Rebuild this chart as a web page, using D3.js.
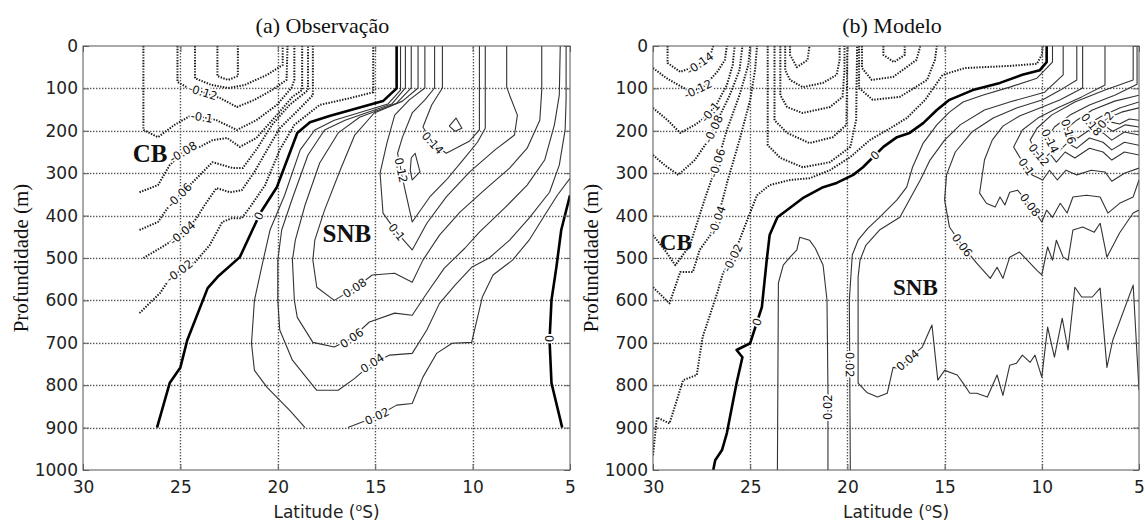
<!DOCTYPE html>
<html>
<head>
<meta charset="utf-8">
<script src="https://cdn.jsdelivr.net/npm/d3@7"></script>
<style>
  body { margin: 0; background: #fff; }
  svg { display: block; }
</style>
</head>
<body>
<svg id="chart" width="1145" height="523"></svg>
<script>
// contour lines, points are [latitude °S, depth m]

// ---- (a) Observação ----
const obsZeroW = [[13.9,0],[13.9,100],[14.6,130],[17.35,165],[18.35,180],[19.0,205],[20.05,333],[20.9,394],[21.95,498],[23.1,545],[23.6,571],[24.65,694],[25.0,758],[25.55,795],[26.2,900]];
const obsZeroE = [[5.0,352],[5.45,434],[5.7,522],[5.95,599],[6.05,694],[5.95,795],[5.4,900]];
const obsP02a = [[13.7,0],[13.7,104],[14.35,137],[17.1,175],[18.1,198],[18.85,245],[19.65,352],[20.4,434],[20.75,505],[21.2,600],[21.35,701],[21.2,765],[20.55,805],[19.4,859],[18.6,900]];
const obsP02b = [[16.4,900],[14.9,873],[13.9,847],[13.1,843],[12.55,781],[11.85,725],[11.05,701],[10.05,699],[9.5,592],[8.95,540],[7.95,505],[7.1,458],[6.3,399],[5.65,352],[5.0,312]];
const obsP04 = [[13.45,0],[13.45,99],[14.15,137],[16.55,175],[17.6,198],[18.45,257],[19.25,359],[19.8,434],[20.0,505],[20.0,600],[19.9,670],[19.25,741],[18.0,812],[16.9,812],[16.05,784],[15.15,748],[14.25,729],[13.1,725],[12.35,670],[11.7,607],[10.9,564],[10.05,522],[9.15,500],[8.1,458],[7.1,406],[6.05,345],[5.55,281],[5.25,198],[5.2,127],[5.2,0]];
const obsP06 = [[13.15,0],[13.15,99],[13.9,135],[15.8,168],[16.9,205],[17.85,276],[18.6,375],[19.1,458],[19.25,505],[19.15,600],[19.0,640],[18.2,699],[17.1,710],[16.2,689],[15.3,651],[14.0,630],[13.1,635],[12.35,583],[11.45,524],[10.4,477],[9.65,439],[8.35,382],[7.2,328],[6.3,269],[5.8,186],[5.55,116],[5.5,0]];
const obsP08 = [[12.8,0],[12.8,99],[13.6,130],[15.05,158],[16.05,210],[16.8,293],[17.6,387],[18.1,458],[18.2,505],[18.0,569],[17.1,600],[16.05,571],[15.15,540],[14.0,536],[13.1,557],[12.55,505],[11.7,446],[10.65,392],[9.4,340],[8.1,288],[7.2,241],[6.55,175],[6.45,104],[6.45,0]];
const obsP10 = [[12.45,0],[12.45,99],[13.25,127],[14.0,163],[14.4,229],[14.75,300],[14.6,394],[13.9,439],[13.1,481],[12.35,418],[11.35,356],[10.15,297],[8.85,245],[7.85,210],[7.7,163],[8.1,116],[8.25,97],[8.25,0]];
const obsP12 = [[11.95,0],[11.95,99],[12.45,127],[13.1,158],[13.6,215],[13.85,253],[13.5,333],[13.1,415],[12.2,356],[11.35,316],[10.5,269],[9.75,227],[9.35,194],[9.35,97],[9.35,0]];
const obsP14 = [[11.55,0],[11.55,99],[12.1,139],[12.55,191],[12.05,229],[11.35,253],[10.15,224],[9.65,198],[9.65,97],[9.65,0]];
const obsLoop1 = [[11.2,189],[10.85,170],[10.55,194],[10.9,201],[11.2,189]];
const obsLoop2 = [[13.15,264],[12.95,253],[12.7,297],[13.1,316],[13.2,293],[13.15,264]];
const obsN02 = [[27.1,630],[26.05,583],[25.7,559],[25.05,531],[24.25,510],[23.5,470],[22.85,415],[22.35,406],[21.85,406],[21.35,375],[20.65,328],[19.9,245],[19.15,186],[17.85,139],[16.3,123],[15.1,109],[15.1,0]];
const obsN04 = [[26.9,500],[26.05,477],[25.55,463],[24.9,441],[24.25,411],[23.75,375],[23.15,335],[22.45,345],[21.85,340],[21.2,297],[20.5,241],[19.9,194],[18.95,151],[18.2,116],[18.2,0]];
const obsN06 = [[27.1,434],[26.15,415],[25.55,375],[25.05,352],[24.25,316],[23.35,274],[22.3,288],[21.8,288],[21.05,241],[20.3,186],[19.4,139],[18.45,104],[18.45,0]];
const obsN08 = [[27.1,345],[26.15,328],[25.55,281],[24.85,250],[24.0,238],[23.35,222],[22.6,217],[21.95,238],[21.1,217],[20.15,168],[19.25,120],[18.75,104],[18.75,0]];
const obsN10 = [[26.9,0],[26.9,198],[26.15,215],[25.3,186],[24.5,165],[23.9,168],[23.15,175],[22.1,198],[21.1,175],[20.05,139],[19.3,99],[19.15,80],[19.15,0]];
const obsN12 = [[25.15,0],[25.15,85],[24.6,99],[23.85,109],[22.95,123],[22.1,144],[21.2,127],[20.3,104],[19.55,80],[19.5,0]];
const obsN14 = [[24.25,0],[24.25,76],[23.4,92],[22.55,99],[21.7,92],[20.55,68],[19.75,45],[19.75,0]];
const obsN16 = [[23.1,0],[23.1,71],[22.55,80],[22.05,71],[22.05,0]];

// ---- (b) Modelo ----
const modZero = [[9.75,0],[9.75,38],[10.1,57],[11.0,68],[12.15,87],[13.55,104],[14.75,127],[15.4,151],[16.1,182],[16.8,205],[17.45,215],[18.15,238],[19.2,286],[19.7,304],[20.55,323],[21.25,333],[22.3,359],[23.1,387],[23.6,404],[24.0,446],[24.15,505],[24.4,616],[24.65,651],[25.0,701],[25.7,717],[25.4,734],[25.7,795],[26.2,913],[26.45,953],[26.8,977],[26.9,1000]];
const modN14 = [[29.25,0],[29.25,40],[28.6,61],[27.75,47],[27.05,21],[26.9,0]];
const modN12 = [[30,52],[29.3,76],[28.5,97],[28.0,109],[27.35,94],[26.7,61],[26.3,33],[26.2,0]];
const modN10 = [[30,146],[29.25,175],[28.6,205],[27.85,186],[27.2,165],[26.7,135],[26.2,92],[25.9,45],[25.8,0]];
const modN08 = [[30,257],[29.4,281],[28.7,304],[27.85,269],[27.15,222],[26.55,163],[26.05,116],[25.55,57],[25.4,0]];
const modN06 = [[30,446],[29.4,481],[28.85,517],[28.1,470],[27.35,363],[26.7,276],[26.2,198],[25.55,116],[25.1,45],[25.0,0]];
const modN04 = [[30,569],[29.15,607],[28.6,533],[27.95,533],[27.6,481],[27.05,446],[26.7,411],[26.15,316],[25.55,222],[25.0,127],[24.75,57],[24.65,0]];
const modN02 = [[30,965],[29.8,876],[29.15,890],[28.45,788],[27.75,776],[27.45,687],[26.7,583],[26.4,536],[25.9,500],[25.25,422],[24.65,352],[24.0,328],[22.95,316],[21.95,312],[20.9,293],[19.85,262],[18.85,222],[17.8,194],[16.95,170],[16.0,127],[15.1,68],[13.95,52],[13.05,50],[11.65,47],[10.25,42],[10.0,21],[9.95,0]];
const modU1 = [[22.95,0],[22.95,21],[22.6,50],[22.05,33],[21.95,0]];
const modU2 = [[23.2,0],[23.2,57],[22.95,80],[22.3,97],[21.25,87],[20.55,68],[20.4,33],[20.4,0]];
const modU3 = [[23.45,0],[23.45,116],[23.1,144],[22.3,158],[20.9,144],[20.25,120],[20.15,57],[20.15,0]];
const modU4 = [[23.75,0],[23.75,175],[23.1,205],[21.95,229],[20.75,215],[20.05,186],[20.0,0]];
const modU5 = [[24.1,0],[24.1,234],[23.45,264],[22.3,286],[20.9,274],[19.85,238],[19.55,175],[19.5,0]];
const modV1 = [[18.15,0],[18.15,21],[17.6,38],[17.05,21],[17.05,0]];
const modV2 = [[19.25,0],[19.25,52],[18.75,80],[17.65,73],[16.45,33],[16.25,0]];
const modV3 = [[19.4,0],[19.4,99],[18.7,127],[17.3,120],[15.9,80],[15.5,33],[15.4,0]];
const modP02 = [[9.45,0],[9.45,38],[10.25,76],[11.65,97],[13.05,116],[14.05,132],[14.75,156],[15.4,186],[16.1,229],[16.65,286],[16.95,333],[17.45,363],[18.35,404],[18.95,430],[19.45,458],[19.75,493],[19.9,599],[19.85,1000]];
const modArch = [[21.0,1000],[21.0,812],[21.05,599],[21.25,517],[21.65,477],[21.95,458],[22.45,451],[22.6,481],[22.95,498],[23.3,517],[23.55,559],[23.6,1000]];
const modP04 = [[8.9,0],[8.9,68],[9.85,109],[11.65,132],[12.95,151],[14.2,186],[15.0,222],[15.75,269],[16.25,316],[17.3,404],[18.35,434],[19.05,470],[19.35,505],[19.45,545],[19.45,795],[19.0,817],[18.45,828],[17.95,819],[17.65,758],[17.4,760],[16.9,741],[16.15,710],[15.65,658],[15.35,788],[15.0,765],[14.35,776],[14.05,795],[13.7,819],[13.35,819],[12.8,828],[12.3,776],[12.0,824],[11.65,753],[11.3,748],[11.0,729],[10.6,746],[10.35,729],[10.0,781],[9.7,663],[9.35,734],[8.95,642],[8.65,717],[8.3,569],[7.95,592],[7.4,592],[7.0,571],[6.65,758],[6.35,694],[5.3,564],[5.0,812]];
const modP06 = [[8.2,0],[8.2,80],[9.05,104],[9.95,127],[11.3,146],[12.5,170],[13.6,203],[14.45,250],[14.9,304],[15.0,363],[14.75,427],[14.1,470],[13.35,512],[12.65,548],[12.3,522],[12.0,548],[11.65,498],[11.15,486],[10.75,505],[10.25,529],[10.0,540],[9.7,474],[9.45,505],[9.25,458],[8.9,498],[8.65,505],[8.4,434],[7.9,427],[7.3,439],[7.0,418],[6.65,498],[6.0,441],[5.3,394],[5.0,387]];
const modP08 = [[7.9,0],[7.9,99],[9.05,127],[10.1,146],[11.15,165],[12.0,189],[12.55,222],[12.95,269],[13.2,347],[12.85,371],[12.4,380],[12.15,356],[11.9,375],[11.65,345],[11.25,340],[10.6,375],[10.0,415],[9.75,387],[9.45,404],[9.05,371],[8.7,394],[8.4,356],[7.7,352],[7.0,356],[6.6,394],[6.0,371],[5.3,356],[5.0,316]];
const modP10 = [[6.75,0],[6.75,92],[7.95,120],[9.2,146],[10.2,170],[11.0,198],[11.45,238],[11.05,269],[10.5,304],[9.95,316],[9.6,293],[9.2,316],[8.75,293],[8.2,304],[7.45,293],[6.75,297],[6.4,319],[5.75,300],[5.0,288]];
const modP12 = [[5.3,0],[5.3,80],[6.75,104],[8.3,132],[9.5,163],[10.25,194],[10.6,222],[10.35,245],[9.95,269],[9.6,253],[9.25,274],[8.8,250],[8.3,264],[7.55,241],[6.85,250],[6.4,269],[5.75,250],[5.0,257]];
const modP14 = [[5.1,0],[5.1,90],[6.25,116],[7.55,139],[8.55,163],[9.35,191],[9.7,215],[9.45,234],[9.05,245],[8.7,229],[8.2,241],[7.55,217],[6.85,227],[6.4,245],[5.75,227],[5.0,234]];
const modP16 = [[5.0,116],[6.25,130],[7.4,151],[8.2,175],[8.7,194],[8.55,210],[8.15,217],[7.55,198],[6.85,205],[6.4,222],[5.75,203],[5.0,210]];
const modP18 = [[5.0,132],[6.0,146],[6.9,165],[7.55,182],[7.3,189],[6.75,189],[6.35,201],[5.7,186],[5.0,191]];
const modP20 = [[5.0,146],[5.9,156],[6.6,170],[6.85,179],[6.5,179],[6.0,184],[5.5,172],[5.0,175]];

// contour level of each line and where its inline label sits
const obsContours = [
  {level: 0, pts: obsZeroW, labels: [[20.95, 401]]},
  {level: 0, pts: obsZeroE, labels: [[6.0, 690]]},
  {level: 0.02, pts: obsP02a, labels: []},
  {level: 0.02, pts: obsP02b, labels: [[14.9, 873]]},
  {level: 0.04, pts: obsP04, labels: [[15.15, 748]]},
  {level: 0.06, pts: obsP06, labels: [[16.2, 689]]},
  {level: 0.08, pts: obsP08, labels: [[16.05, 571]]},
  {level: 0.1, pts: obsP10, labels: [[13.9, 439]]},
  {level: 0.12, pts: obsP12, labels: [[13.7, 293]]},
  {level: 0.14, pts: obsP14, labels: [[12.05, 229]]},
  {level: 0.14, pts: obsLoop1, labels: []},
  {level: 0.14, pts: obsLoop2, labels: []},
  {level: -0.02, pts: obsN02, labels: [[25.05, 531]]},
  {level: -0.04, pts: obsN04, labels: [[24.9, 441]]},
  {level: -0.06, pts: obsN06, labels: [[25.05, 352]]},
  {level: -0.08, pts: obsN08, labels: [[24.85, 250]]},
  {level: -0.1, pts: obsN10, labels: [[23.9, 168]]},
  {level: -0.12, pts: obsN12, labels: [[23.85, 109]]},
  {level: -0.14, pts: obsN14, labels: []},
  {level: -0.16, pts: obsN16, labels: []}
];

const modContours = [
  {level: 0, pts: modZero, labels: [[18.6, 257], [24.65, 651]]},
  {level: -0.14, pts: modN14, labels: [[27.6, 40]]},
  {level: -0.12, pts: modN12, labels: [[27.7, 101]]},
  {level: -0.1, pts: modN10, labels: [[27.05, 156]]},
  {level: -0.08, pts: modN08, labels: [[26.8, 198]]},
  {level: -0.06, pts: modN06, labels: [[26.7, 276]]},
  {level: -0.04, pts: modN04, labels: [[26.7, 411]]},
  {level: -0.02, pts: modN02, labels: [[25.9, 500]]},
  {level: -0.16, pts: modU1, labels: []},
  {level: -0.14, pts: modU2, labels: []},
  {level: -0.12, pts: modU3, labels: []},
  {level: -0.1, pts: modU4, labels: []},
  {level: -0.08, pts: modU5, labels: []},
  {level: -0.1, pts: modV1, labels: []},
  {level: -0.08, pts: modV2, labels: []},
  {level: -0.06, pts: modV3, labels: []},
  {level: 0.02, pts: modP02, labels: [[19.9, 752]]},
  {level: 0.02, pts: modArch, labels: [[21.0, 852]]},
  {level: 0.04, pts: modP04, labels: [[16.9, 741]]},
  {level: 0.06, pts: modP06, labels: [[14.1, 470]]},
  {level: 0.08, pts: modP08, labels: [[10.6, 375]]},
  {level: 0.1, pts: modP10, labels: [[10.8, 285]]},
  {level: 0.12, pts: modP12, labels: [[10.15, 257]]},
  {level: 0.14, pts: modP14, labels: [[9.6, 225]]},
  {level: 0.16, pts: modP16, labels: [[8.65, 202]]},
  {level: 0.18, pts: modP18, labels: [[7.45, 185]]},
  {level: 0.2, pts: modP20, labels: [[6.7, 176]]}
];

// region names: [text, lat, depth of baseline]
const obsNotes = [["CB", 27.45, 274], ["SNB", 17.7, 463]];
const modNotes = [["CB", 29.65, 481], ["SNB", 17.65, 588]];

const latTicks = [30, 25, 20, 15, 10, 5];
const depthTicks = [0, 100, 200, 300, 400, 500, 600, 700, 800, 900, 1000];

const panels = [
  {title: "(a) Observação", left: 83, right: 570, contours: obsContours, notes: obsNotes, noteSize: 25},
  {title: "(b) Modelo", left: 653, right: 1139, contours: modContours, notes: modNotes, noteSize: 23}
];
const plotTop = 46, plotBottom = 470;

const svg = d3.select("#chart");

panels.forEach((p, i) => drawPanel(p, i));

function drawPanel(p, i) {
  const x = d3.scaleLinear().domain([30, 5]).range([p.left, p.right]);
  const y = d3.scaleLinear().domain([0, 1000]).range([plotTop, plotBottom]);
  const g = svg.append("g");

  g.append("clipPath").attr("id", "clip" + i)
    .append("rect")
    .attr("x", p.left).attr("y", plotTop)
    .attr("width", p.right - p.left).attr("height", plotBottom - plotTop);

  // dotted grid, drawn as rows of tiny squares
  const gridX = latTicks.slice(1, -1), gridY = depthTicks.slice(1, -1);
  const grid = g.append("g").attr("fill", "#555");
  gridX.forEach(v => {
    const gx = Math.round(x(v));
    grid.append("g").selectAll("rect").data(d3.range(plotTop + 1, plotBottom, 3)).join("rect")
      .attr("x", gx - 0.25).attr("y", d => d).attr("width", 1.4).attr("height", 1.4);
  });
  gridY.forEach(v => {
    const gy = Math.round(y(v));
    grid.append("g").selectAll("rect").data(d3.range(p.left + 1, p.right, 3)).join("rect")
      .attr("x", d => d).attr("y", gy - 0.25).attr("width", 1.4).attr("height", 1.4);
  });

  // contours
  const line = d3.line().x(d => x(d[0])).y(d => y(d[1]));
  const cg = g.append("g").attr("clip-path", `url(#clip${i})`).attr("fill", "none");
  cg.selectAll("path").data(p.contours).join("path")
    .attr("d", d => line(d.pts))
    .attr("stroke", d => d.level === 0 ? "#000" : (d.level > 0 ? "#333" : "#1a1a1a"))
    .attr("stroke-width", d => d.level === 0 ? 2.6 : (d.level > 0 ? 1.1 : 2))
    .attr("stroke-dasharray", d => d.level < 0 ? "1.4,1.4" : null)
    .attr("stroke-linejoin", "round");

  // inline contour labels (white halo cuts the line like clabel)
  const labs = [];
  p.contours.forEach(c => {
    const sp = c.pts.map(d => [x(d[0]), y(d[1])]);
    c.labels.forEach(l => {
      const pose = labelPose(sp, [x(l[0]), y(l[1])]);
      labs.push({text: String(c.level), ...pose});
    });
  });
  g.append("g").selectAll("text").data(labs).join("text")
    .attr("transform", d => `translate(${d.x},${d.y}) rotate(${d.ang})`)
    .attr("text-anchor", "middle")
    .attr("dominant-baseline", "central")
    .attr("font-family", "DejaVu Sans")
    .attr("font-size", 11.5)
    .attr("fill", "#111")
    .attr("stroke", "#fff")
    .attr("stroke-width", 3.5)
    .attr("paint-order", "stroke")
    .text(d => d.text);

  // region names
  g.append("g").selectAll("text").data(p.notes).join("text")
    .attr("x", d => x(d[1])).attr("y", d => y(d[2]))
    .attr("font-family", "Liberation Serif")
    .attr("font-weight", "bold")
    .attr("font-size", p.noteSize)
    .attr("fill", "#111")
    .text(d => d[0]);

  // axes with inward ticks
  const fontAxis = sel => sel.attr("font-family", "DejaVu Sans").attr("font-size", 17)
    .call(s => s.select(".domain").remove())
    .call(s => s.selectAll(".tick line").attr("stroke", "#666"))
    .call(s => s.selectAll(".tick text").attr("fill", "#222"));

  g.append("g").attr("transform", `translate(0,${plotBottom})`)
    .call(d3.axisBottom(x).tickValues(latTicks).tickSize(-6).tickPadding(11).tickFormat(d3.format("d")))
    .call(fontAxis);
  g.append("g").attr("transform", `translate(0,${plotTop})`)
    .call(d3.axisTop(x).tickValues(latTicks).tickSize(-6).tickFormat(() => ""))
    .call(fontAxis);
  g.append("g").attr("transform", `translate(${p.left},0)`)
    .call(d3.axisLeft(y).tickValues(depthTicks).tickSize(-6).tickPadding(5).tickFormat(d3.format("d")))
    .call(fontAxis);
  g.append("g").attr("transform", `translate(${p.right},0)`)
    .call(d3.axisRight(y).tickValues(depthTicks).tickSize(-6).tickFormat(() => ""))
    .call(fontAxis);

  g.append("rect")
    .attr("x", p.left).attr("y", plotTop)
    .attr("width", p.right - p.left).attr("height", plotBottom - plotTop)
    .attr("fill", "none").attr("stroke", "#555").attr("stroke-width", 1);

  // titles
  const cx = (p.left + p.right) / 2;
  g.append("text")
    .attr("x", cx - 4).attr("y", 33)
    .attr("text-anchor", "middle")
    .attr("font-family", "Liberation Serif").attr("font-size", 22).attr("fill", "#111")
    .text(p.title);

  const xl = g.append("text")
    .attr("x", cx).attr("y", 518)
    .attr("text-anchor", "middle")
    .attr("font-family", "DejaVu Sans").attr("font-size", 17).attr("fill", "#222");
  xl.append("tspan").text("Latitude (");
  xl.append("tspan").attr("font-size", 11).attr("dy", -7).text("o");
  xl.append("tspan").attr("dy", 7).text("S)");

  g.append("text")
    .attr("transform", `translate(${p.left - 62},${(plotTop + plotBottom) / 2}) rotate(-90)`)
    .attr("text-anchor", "middle")
    .attr("dominant-baseline", "central")
    .attr("font-family", "Liberation Serif").attr("font-size", 21).attr("fill", "#111")
    .text("Profundidade (m)");
}

// nearest point on a screen polyline and the local direction there
function labelPose(sp, target) {
  const cum = [0];
  for (let k = 1; k < sp.length; k++) {
    cum.push(cum[k - 1] + Math.hypot(sp[k][0] - sp[k - 1][0], sp[k][1] - sp[k - 1][1]));
  }
  let best = {d: Infinity};
  for (let k = 0; k < sp.length - 1; k++) {
    const [x1, y1] = sp[k], [x2, y2] = sp[k + 1];
    const dx = x2 - x1, dy = y2 - y1, L2 = dx * dx + dy * dy;
    let t = L2 ? ((target[0] - x1) * dx + (target[1] - y1) * dy) / L2 : 0;
    t = Math.max(0, Math.min(1, t));
    const px = x1 + t * dx, py = y1 + t * dy;
    const d = Math.hypot(target[0] - px, target[1] - py);
    if (d < best.d) best = {d, px, py, s: cum[k] + t * Math.sqrt(L2)};
  }
  const total = cum[cum.length - 1];
  const at = s => {
    s = Math.max(0, Math.min(total, s));
    let k = 1;
    while (k < cum.length - 1 && cum[k] < s) k++;
    const f = (s - cum[k - 1]) / ((cum[k] - cum[k - 1]) || 1);
    return [sp[k - 1][0] + f * (sp[k][0] - sp[k - 1][0]), sp[k - 1][1] + f * (sp[k][1] - sp[k - 1][1])];
  };
  const a = at(best.s - 7), b = at(best.s + 7);
  let ang = Math.atan2(b[1] - a[1], b[0] - a[0]) * 180 / Math.PI;
  if (ang > 90) ang -= 180;
  if (ang < -90) ang += 180;
  return {x: best.px, y: best.py, ang};
}
</script>
</body>
</html>
